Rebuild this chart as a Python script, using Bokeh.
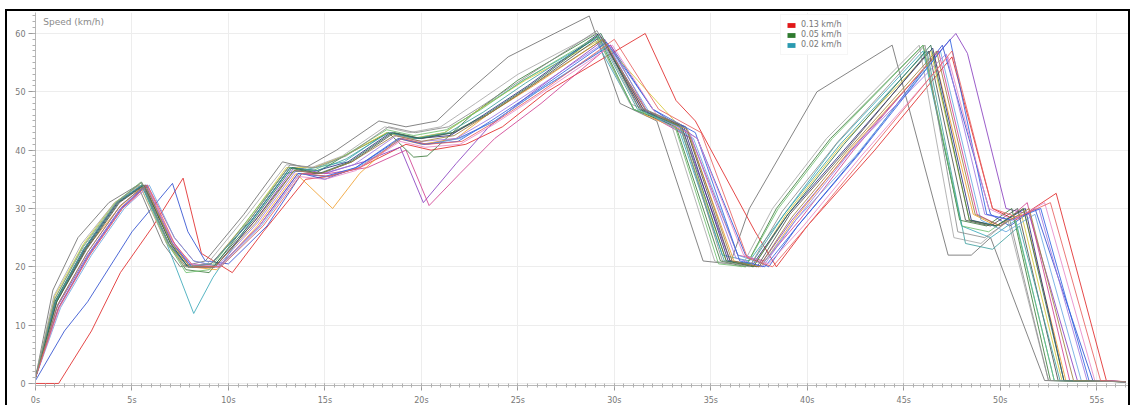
from bokeh.plotting import figure
from bokeh.models import FixedTicker, Legend, LegendItem, Label, Range1d
from bokeh.embed import file_html
from bokeh.resources import INLINE

# ---- data: lap speed traces (time s, speed km/h) ----
lap01_t = [0, 0.9, 2.2, 3.8, 5.3, 6.6, 7.5, 8.8, 10.8, 12.8, 14.0, 15.6, 17.8, 19.2, 20.8, 22.4, 24.5, 28.7, 30.3, 32.2, 34.6, 36.0, 37.0, 40.5, 44.4, 47.3, 48.5, 49.5, 52.3, 56.5]
lap01_v = [1, 16, 25, 31, 34, 24, 20, 21, 29, 38, 37, 40, 45, 44, 45, 50, 56, 63, 48, 45, 21, 20.5, 30, 50, 58, 22, 22, 25, 0.5, 0.3]
lap02_t = [0, 1.2, 2.9, 4.4, 6.1, 7.65, 8.6, 10.2, 11.8, 14.0, 15.2, 16.8, 19.2, 20.5, 22.3, 24.2, 26.5, 31.6, 33.2, 34.2, 37.3, 38.4, 40.0, 43.5, 47.5, 49.6, 50.8, 52.9, 55.5, 56.5]
lap02_v = [0, 0, 9, 19, 27, 35.2, 22.3, 19, 26, 35, 35.5, 37, 41, 40, 41, 44, 50, 60, 48.5, 45, 26, 20, 27, 40, 56, 30, 28, 32.6, 0.5, 0.3]
lap03_t = [0, 1.5, 2.7, 5.0, 7.1, 7.9, 8.8, 10.0, 12.0, 13.8, 15.0, 16.6, 18.9, 20.2, 21.9, 23.8, 26.0, 29.8, 32.0, 34.3, 36.8, 38.0, 39.5, 42.8, 47.0, 49.5, 50.5, 51.8, 54.8, 56.5]
lap03_v = [0.5, 9, 14, 26, 34.3, 26, 21, 20.5, 27, 36, 35, 37, 42, 41, 42, 45, 50, 58, 47, 42, 22, 20, 27, 40, 58, 29, 27, 30, 0.5, 0.3]
lap04_t = [0, 1.0, 2.5, 4.2, 5.5, 6.8, 8.2, 9.2, 11.0, 13.0, 14.5, 16.0, 18.2, 19.6, 21.2, 23.0, 25.3, 29.0, 31.0, 33.3, 35.6, 37.0, 38.8, 41.5, 46.0, 48.0, 49.5, 50.8, 52.8, 56.5]
lap04_v = [1, 14, 23, 31, 34, 24, 12, 18.2, 27, 36, 37, 38, 43, 42, 43, 47, 52, 59, 47, 44, 22, 21, 29, 41, 57, 27, 25, 28, 0.5, 0.3]
lap05_t = [0, 1.1, 2.7, 4.4, 5.7, 7.0, 8.0, 9.3, 11.4, 13.4, 15.0, 17.0, 18.9, 20.1, 21.8, 23.5, 25.8, 29.5, 31.5, 33.6, 36.0, 37.5, 39.2, 42.0, 47.7, 48.3, 50.3, 51.5, 54.0, 56.5]
lap05_v = [1, 13, 22, 30, 34, 25, 20, 20, 28, 37, 36, 38, 40.5, 31, 37.7, 44, 50, 59, 47, 43, 21, 20, 28, 39, 60, 56.6, 30, 29, 0.5, 0.3]
lap06_t = [0, 1.2, 2.8, 4.5, 5.8, 7.2, 8.2, 9.5, 11.6, 13.6, 15.2, 17.2, 19.2, 20.4, 22.0, 23.8, 26.2, 29.8, 31.8, 34.0, 36.4, 37.8, 39.6, 42.4, 46.8, 48.8, 50.0, 51.4, 53.6, 56.5]
lap06_v = [1, 13, 22, 30, 34, 25, 21, 20, 27, 36, 36, 37, 40, 30.5, 36, 42, 48, 58, 46, 42, 22, 21, 28, 40, 57, 29, 27, 31, 0.5, 0.3]
lap07_t = [0, 1.0, 2.5, 4.2, 5.5, 6.9, 7.8, 9.0, 11.1, 13.1, 14.5, 16.0, 18.3, 19.6, 20.3, 22.6, 25.0, 29.1, 31.0, 33.2, 35.5, 36.8, 38.4, 41.2, 46.0, 47.9, 49.3, 50.6, 52.6, 56.5]
lap07_v = [1, 14, 23, 31, 34.5, 24, 19.5, 19, 28, 37, 36, 39, 43, 38.8, 39, 46, 52, 60, 47, 44, 21, 20, 30, 42, 58, 28, 27, 30, 0.5, 0.3]
lap08_t = [0, 1.1, 2.6, 4.3, 5.6, 7.1, 8.0, 9.4, 11.5, 13.5, 15.4, 16.8, 18.8, 20.0, 21.8, 23.4, 25.8, 29.4, 31.6, 33.8, 36.2, 37.6, 39.3, 42.2, 46.6, 48.6, 49.8, 51.2, 53.4, 56.5]
lap08_v = [1, 14, 23, 30, 34, 24, 20, 19.5, 27, 36, 30, 36, 42, 41, 42, 46, 51, 59, 46, 43, 21, 20, 28, 40, 56, 29, 27, 30, 0.5, 0.3]
lap09_t = [0, 1.0, 2.5, 4.1, 5.4, 6.8, 7.8, 9.0, 11.0, 13.0, 14.4, 16.0, 18.2, 19.5, 21.2, 23.0, 25.4, 29.3, 31.2, 33.4, 35.8, 37.2, 38.9, 41.8, 46.4, 48.4, 49.7, 51.1, 53.2, 56.5]
lap09_v = [1, 15, 24, 31, 34, 24, 20, 20, 28, 37, 37, 39, 43, 42, 43, 47, 52, 59, 52, 44, 21, 20, 29, 41, 57, 28, 27, 29, 0.5, 0.3]
lap10_t = [0, 1.05, 2.55, 4.25, 5.55, 6.9, 7.9, 9.1, 11.2, 13.2, 14.6, 16.2, 18.4, 19.8, 21.5, 23.2, 25.5, 29.2, 31.4, 33.6, 35.9, 37.2, 39.0, 41.9, 46.5, 48.5, 49.8, 51.3, 53.3, 56.5]
lap10_v = [1, 14, 23, 31, 34, 24, 20, 20.5, 28, 37, 36.5, 38, 43, 42, 42.5, 46, 51, 60, 47, 44, 21, 20.5, 29, 40, 57.5, 28, 27, 30, 0.5, 0.3]
lap11_t = [0, 0.95, 2.4, 4.1, 5.4, 6.8, 7.7, 8.9, 11.0, 13.0, 14.3, 15.9, 18.1, 19.4, 21.0, 22.8, 25.0, 29.0, 30.8, 32.9, 35.2, 36.6, 38.2, 41.0, 45.8, 47.6, 49.0, 50.4, 52.5, 56.5]
lap11_v = [1, 15, 24, 31, 34, 24, 20, 20.5, 29, 37.5, 37, 39, 44, 43, 44, 48, 53, 60, 48, 45, 21, 20, 30, 42, 58, 25, 24, 28, 0.5, 0.3]
lap12_t = [0, 1.1, 2.65, 4.35, 5.65, 7.0, 7.9, 9.3, 11.4, 13.4, 14.8, 16.4, 18.6, 20.0, 21.7, 23.4, 25.7, 29.3, 31.5, 33.7, 36.0, 37.4, 39.1, 42.0, 46.3, 48.2, 49.5, 50.9, 53.0, 56.5]
lap12_v = [1, 14, 23, 31, 34, 24, 20, 20, 28, 36.5, 36, 38, 43, 42, 43, 46, 51, 59.5, 47, 44, 21, 20, 29, 40, 57, 28, 27, 30, 0.5, 0.3]
lap13_t = [0, 1.3, 2.9, 4.6, 5.9, 7.2, 8.2, 9.6, 11.7, 13.7, 15.1, 16.7, 19.0, 20.3, 22.0, 23.8, 26.0, 29.7, 31.9, 34.1, 36.4, 37.7, 39.4, 42.5, 46.9, 49.0, 50.3, 51.8, 54.2, 56.5]
lap13_v = [1, 13, 22, 30, 34, 25, 21, 20, 27, 36, 35.5, 37, 42, 41, 42, 45, 50, 58, 46, 42, 22, 20.5, 28, 39, 57, 28, 26, 29, 0.5, 0.3]
lap14_t = [0, 1.15, 2.7, 4.4, 5.7, 7.1, 8.0, 9.4, 11.5, 13.5, 14.9, 16.5, 18.7, 20.0, 21.8, 23.6, 25.9, 29.5, 31.7, 33.9, 36.3, 37.7, 39.4, 42.3, 47.2, 49.2, 50.5, 52.0, 54.5, 56.5]
lap14_v = [1, 13.5, 22.5, 30.5, 34, 24.5, 20.5, 20, 27.5, 36.5, 36, 37.5, 42.5, 41.5, 42, 45.5, 50.5, 58.5, 46.5, 43, 21.5, 20, 28, 40, 56.5, 29, 28, 30, 0.5, 0.3]
lap15_t = [0, 1.0, 2.45, 4.15, 5.45, 6.85, 7.8, 9.0, 11.1, 13.1, 14.4, 16.0, 18.2, 19.6, 21.3, 23.1, 25.3, 29.1, 31.0, 33.1, 35.4, 36.8, 38.5, 41.3, 46.0, 48.0, 49.4, 50.7, 52.8, 56.5]
lap15_v = [1, 14.5, 23.5, 31, 34.5, 24, 19, 19.5, 28.5, 37, 36.5, 39, 43.5, 42.5, 43.5, 47, 52, 59.5, 47, 44.5, 20.5, 20, 30, 42, 58, 27, 26, 29, 0.5, 0.3]
lap16_t = [0, 1.2, 2.75, 4.45, 5.75, 7.1, 8.1, 9.5, 11.6, 13.6, 15.0, 16.6, 18.8, 20.1, 21.9, 23.6, 25.9, 29.6, 32.0, 34.2, 36.5, 37.8, 39.5, 42.6, 47.4, 49.3, 50.6, 52.1, 54.6, 56.5]
lap16_v = [1, 13, 22, 30, 34, 24, 20, 20, 27, 36, 35.5, 37, 42, 41, 41.5, 45, 50, 58.5, 47, 43, 21, 20, 27, 39, 59, 29, 28, 30, 0.5, 0.3]
lap17_t = [0, 1.25, 2.8, 4.5, 5.8, 7.15, 8.1, 9.5, 11.6, 13.6, 15.0, 16.6, 18.9, 20.2, 22.0, 23.8, 26.1, 29.9, 32.2, 34.3, 36.7, 38.0, 39.8, 42.8, 47.3, 49.4, 50.7, 52.3, 54.9, 56.5]
lap17_v = [1, 13, 22, 30, 33.5, 24, 20.5, 20, 27, 35.5, 35, 36.5, 41.5, 40.5, 41, 44.5, 49.5, 58, 46, 42, 22, 20.5, 27, 39, 56, 30, 28, 31, 0.5, 0.3]
lap18_t = [0, 1.05, 2.5, 4.2, 5.5, 6.9, 7.9, 9.1, 11.2, 13.2, 14.6, 16.1, 18.3, 19.7, 21.4, 23.2, 25.4, 29.2, 31.2, 33.4, 35.7, 37.1, 38.8, 41.7, 46.2, 48.2, 49.6, 51.0, 53.1, 56.5]
lap18_v = [1, 14, 23, 31, 34, 24, 20, 20.5, 28, 37, 36.5, 38.5, 43, 42, 43, 46.5, 51.5, 59.5, 47, 44, 21, 20.5, 29, 41, 57, 24, 23, 27, 0.5, 0.3]
lap19_t = [0, 1.1, 2.6, 4.3, 5.6, 7.0, 7.9, 9.2, 11.3, 13.3, 14.7, 16.3, 18.5, 19.9, 21.6, 23.3, 25.6, 29.3, 31.3, 33.5, 35.8, 37.2, 39.0, 41.9, 46.4, 48.4, 49.8, 51.2, 53.3, 56.5]
lap19_v = [1, 14, 23, 31, 34, 24, 20, 20, 28, 37, 36, 38, 43, 42, 43, 46, 51, 60, 47, 44, 21, 20, 29, 41, 58, 28, 27, 30, 0.5, 0.3]
lap20_t = [0, 1.15, 2.7, 4.4, 5.7, 7.05, 8.0, 9.3, 11.4, 13.4, 14.8, 16.4, 18.6, 20.0, 21.7, 23.4, 25.7, 29.4, 31.6, 33.8, 36.1, 37.5, 39.2, 42.1, 46.7, 48.7, 50.0, 51.5, 53.8, 56.5]
lap20_v = [1, 13.5, 22.5, 30.5, 34, 24, 20, 20, 27.5, 36.5, 36, 38, 42.5, 41.5, 42.5, 46, 51, 59, 47, 43.5, 21, 20, 28.5, 40, 57, 29, 27, 30, 0.5, 0.3]
lap21_t = [0, 1.2, 2.8, 4.5, 5.8, 7.2, 8.2, 9.6, 11.8, 13.8, 15.2, 16.8, 19.0, 20.3, 22.1, 23.9, 26.2, 30.0, 32.3, 34.5, 36.9, 38.2, 40.0, 43.0, 47.5, 49.6, 50.9, 52.6, 55.2, 56.5]
lap21_v = [1, 13, 22, 30, 34, 24, 20, 20, 27, 36, 35.5, 37, 42, 41, 41.5, 45, 50, 59, 47, 43, 21.5, 20, 27, 39, 57, 30, 28.5, 31, 0.5, 0.3]
lap22_t = [0, 1.0, 2.5, 4.2, 5.5, 6.9, 7.8, 9.1, 11.2, 13.2, 14.5, 16.1, 18.3, 19.7, 21.4, 23.1, 25.4, 29.1, 31.2, 33.4, 35.6, 37.0, 38.7, 41.6, 46.1, 47.8, 49.2, 50.5, 52.5, 56.5]
lap22_v = [1, 14.5, 23.5, 31, 34.5, 24, 20, 20.5, 28.5, 37.5, 37, 39, 44, 43, 44, 47.5, 52.5, 60.5, 47.5, 44.5, 21, 20, 29.5, 41.5, 58, 26, 25, 28, 0.5, 0.3]

lap_colors = ["#707070", "#e02828", "#2f4fd0", "#3aa8b8", "#8a3fc0", "#d04090",
              "#3d7d3d", "#f0a030", "#d8c838", "#2a2a80", "#a8a8a8", "#505050",
              "#6aa8e0", "#a078e0", "#70c070", "#3060e0", "#e888c8", "#40a0a0",
              "#2f6f4f", "#a08040", "#e86060", "#8c8c8c"]

laps = [(lap01_t, lap01_v), (lap02_t, lap02_v), (lap03_t, lap03_v), (lap04_t, lap04_v),
        (lap05_t, lap05_v), (lap06_t, lap06_v), (lap07_t, lap07_v), (lap08_t, lap08_v),
        (lap09_t, lap09_v), (lap10_t, lap10_v), (lap11_t, lap11_v), (lap12_t, lap12_v),
        (lap13_t, lap13_v), (lap14_t, lap14_v), (lap15_t, lap15_v), (lap16_t, lap16_v),
        (lap17_t, lap17_v), (lap18_t, lap18_v), (lap19_t, lap19_v), (lap20_t, lap20_v),
        (lap21_t, lap21_v), (lap22_t, lap22_v)]

legend_labels = ["0.13 km/h", "0.05 km/h", "0.02 km/h"]
legend_colors = ["#e01818", "#2e7a2e", "#2a9ab0"]

x_major = [0, 5, 10, 15, 20, 25, 30, 35, 40, 45, 50, 55]
x_labels = ["0s", "5s", "10s", "15s", "20s", "25s", "30s", "35s", "40s", "45s", "50s", "55s"]
y_major = [0, 10, 20, 30, 40, 50, 60]

p = figure(width=1125, height=396, output_backend="svg", toolbar_location=None,
           x_range=Range1d(0, 56.7), y_range=Range1d(-0.35, 63.6),
           min_border_left=28, min_border_right=3, min_border_top=1, min_border_bottom=22)
p.styles = {"border-top": "2px solid black", "border-left": "2px solid black",
            "border-right": "2px solid black", "margin-left": "5px", "margin-top": "9px"}
p.outline_line_color = None
p.background_fill_color = "white"

for (tt, vv), c in zip(laps, lap_colors):
    p.line(tt, vv, line_color=c, line_width=1, line_alpha=0.85)

# axes
p.xaxis.ticker = FixedTicker(ticks=x_major, minor_ticks=[i * 0.5 for i in range(114)])
p.xaxis.major_label_overrides = {k: l for k, l in zip(x_major, x_labels)}
p.yaxis.ticker = FixedTicker(ticks=y_major, minor_ticks=list(range(0, 64)))
for ax in (p.xaxis[0], p.yaxis[0]):
    ax.axis_line_color = "#b8b8b8"
    ax.major_tick_line_color = "#999999"
    ax.minor_tick_line_color = "#b0b0b0"
    ax.major_label_text_color = "#777777"
    ax.major_label_text_font_size = "8px"
    ax.major_label_text_font = "DejaVu Sans"
p.xaxis.major_tick_in = 2
p.xaxis.major_tick_out = 5
p.xaxis.minor_tick_in = 2
p.xaxis.minor_tick_out = 2
p.xaxis.major_label_standoff = 5
p.yaxis.major_tick_in = 0
p.yaxis.major_tick_out = 7
p.yaxis.minor_tick_in = 0
p.yaxis.minor_tick_out = 3
p.yaxis.major_label_standoff = 3

p.xgrid.grid_line_color = "#ededed"
p.ygrid.grid_line_color = "#ededed"

p.add_layout(Label(x=0.4, y=61.9, text="Speed (km/h)", text_font_size="9px",
                   text_color="#8a8a8a", text_baseline="middle", text_font="DejaVu Sans"))

# legend (swatches drawn by off-screen quads)
items = []
for lab, col in zip(legend_labels, legend_colors):
    r = p.quad(left=[-10], right=[-9], top=[-10], bottom=[-11], fill_color=col, line_color=None)
    items.append(LegendItem(label=lab, renderers=[r]))
leg = Legend(items=items, location=(745, 330), label_text_font_size="8px",
             label_text_color="#777777", glyph_width=10, glyph_height=6,
             label_height=9, spacing=1, padding=5, margin=0,
             border_line_color="#eeeeee", background_fill_alpha=0.9,
             label_text_font="DejaVu Sans")
p.add_layout(leg)

open("out.html", "w").write(file_html(p, INLINE))
